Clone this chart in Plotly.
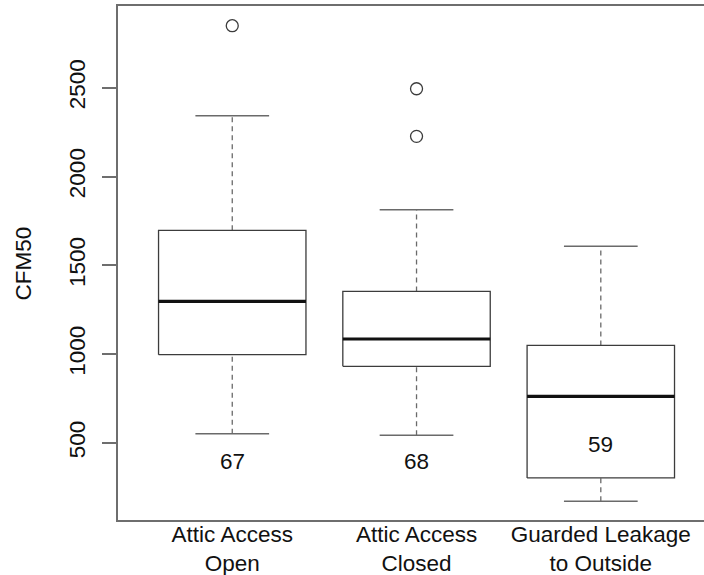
import plotly.graph_objects as go

# ---- data ----
categories = ["Attic Access<br>Open", "Attic Access<br>Closed", "Guarded Leakage<br>to Outside"]
lower_whisker = [551, 543, 171]
q1 = [997, 931, 303]
median = [1297, 1085, 762]
q3 = [1697, 1353, 1049]
upper_whisker = [2342, 1813, 1607]
outliers = [[2849], [2494, 2226], []]
counts = [67, 68, 59]
y_ticks = [500, 1000, 1500, 2000, 2500]

# ---- styling ----
FONT = "Liberation Sans, Arial, Helvetica, sans-serif"
FS = 22.5
BOX_HALF = 0.4
CAP_HALF = 0.2
BOX_COL = "#3c3c3c"
WHISK_COL = "#6a6a6a"
AXIS_COL = "#6e6e6e"

fig = go.Figure()

for i, cat in enumerate(categories):
    xc = i + 1
    # whiskers (dashed)
    fig.add_trace(go.Scatter(x=[xc, xc], y=[q3[i], upper_whisker[i]], mode="lines",
                             line=dict(color=WHISK_COL, width=1.3, dash="5px,4px"),
                             hoverinfo="skip", showlegend=False))
    fig.add_trace(go.Scatter(x=[xc, xc], y=[lower_whisker[i], q1[i]], mode="lines",
                             line=dict(color=WHISK_COL, width=1.3, dash="5px,4px"),
                             hoverinfo="skip", showlegend=False))
    # caps
    for v in (upper_whisker[i], lower_whisker[i]):
        fig.add_trace(go.Scatter(x=[xc - CAP_HALF, xc + CAP_HALF], y=[v, v], mode="lines",
                                 line=dict(color=WHISK_COL, width=1.5),
                                 hoverinfo="skip", showlegend=False))
    # box
    fig.add_trace(go.Scatter(x=[xc - BOX_HALF, xc + BOX_HALF, xc + BOX_HALF, xc - BOX_HALF, xc - BOX_HALF],
                             y=[q1[i], q1[i], q3[i], q3[i], q1[i]], mode="lines",
                             line=dict(color=BOX_COL, width=1.3),
                             hoverinfo="skip", showlegend=False))
    # median
    fig.add_trace(go.Scatter(x=[xc - BOX_HALF, xc + BOX_HALF], y=[median[i], median[i]], mode="lines",
                             line=dict(color="#111111", width=3.2),
                             hoverinfo="skip", showlegend=False))
    # outliers
    if outliers[i]:
        fig.add_trace(go.Scatter(x=[xc] * len(outliers[i]), y=outliers[i], mode="markers",
                                 marker=dict(symbol="circle-open", size=12,
                                             color=BOX_COL, line=dict(width=1.3)),
                                 hoverinfo="skip", showlegend=False))

# count labels
count_label_y = [396, 396, 490]
for i, n in enumerate(counts):
    fig.add_annotation(x=i + 1, y=count_label_y[i], text=str(n), showarrow=False,
                       xanchor="center", yanchor="middle",
                       font=dict(family=FONT, size=FS, color="#111111"))

# y axis title
fig.add_annotation(xref="paper", yref="paper", x=-0.1614, y=0.5, text="CFM50",
                   textangle=-90, showarrow=False, xanchor="center", yanchor="middle",
                   font=dict(family=FONT, size=FS, color="#111111"))

fig.update_layout(
    width=704, height=575,
    margin=dict(l=118, r=0, t=6, b=55),
    paper_bgcolor="white", plot_bgcolor="white",
    font=dict(family=FONT, size=FS, color="#111111"),
    xaxis=dict(range=[0.38, 3.56], tickmode="array", tickvals=[1, 2, 3], ticktext=categories,
               showgrid=False, zeroline=False, showline=True, mirror=True, automargin=False,
               linecolor=AXIS_COL, linewidth=1.5, ticks="", ticklabelstandoff=-7),
    yaxis=dict(range=[66, 2960], tickmode="array", tickvals=y_ticks,
               ticktext=[str(v) for v in y_ticks], tickangle=-90, automargin=False,
               showgrid=False, zeroline=False, showline=True, mirror=False,
               linecolor=AXIS_COL, linewidth=1.5, ticks="outside", ticklen=14,
               tickcolor=AXIS_COL, tickwidth=1.5, ticklabelstandoff=8),
)

fig.write_html("out.html", config={"displayModeBar": False},
               post_script="document.body.style.margin='0';document.body.style.overflow='hidden';")
